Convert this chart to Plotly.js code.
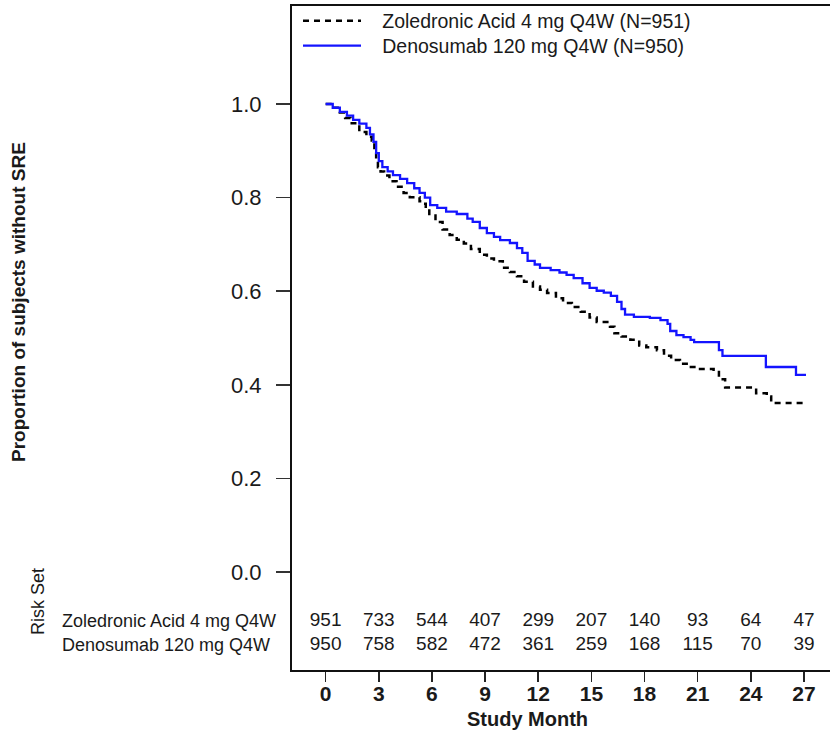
<!DOCTYPE html>
<html>
<head>
<meta charset="utf-8">
<script src="https://cdn.plot.ly/plotly-3.0.1.min.js"></script>
<style>html,body{margin:0;padding:0;background:#fff;}#chart{width:830px;height:731px;}</style>
</head>
<body>
<div id="chart"></div>
<script>
// Kaplan-Meier step data (month, proportion without SRE)
const zolMonths = [0,0.4,0.8,1.1,1.4,1.9,2.3,2.6,2.75,2.85,2.95,3.1,3.3,3.6,4.0,4.4,4.75,5.3,5.5,5.65,5.85,6.2,6.6,7.0,7.4,7.8,8.2,8.7,9.1,9.5,10.0,10.4,10.8,11.2,11.7,12.1,12.5,13.0,13.4,13.9,14.4,14.9,15.3,16.05,16.3,16.7,17.2,17.7,18.1,18.7,19.1,19.5,20.0,20.5,21.0,21.9,22.2,22.55,24.3,24.9,25.15,27.05];
const zolSurv   = [1.0,0.992,0.982,0.970,0.959,0.940,0.930,0.922,0.900,0.880,0.865,0.856,0.847,0.835,0.823,0.810,0.801,0.792,0.787,0.775,0.762,0.748,0.732,0.720,0.710,0.702,0.690,0.678,0.670,0.664,0.650,0.641,0.632,0.620,0.610,0.603,0.596,0.585,0.575,0.566,0.556,0.544,0.534,0.524,0.510,0.503,0.496,0.484,0.480,0.474,0.462,0.453,0.445,0.438,0.434,0.432,0.412,0.394,0.382,0.375,0.361,0.361];

const denoMonths = [0,0.4,0.8,1.2,1.55,1.9,2.3,2.5,2.7,2.85,3.0,3.2,3.5,3.8,4.2,4.6,5.0,5.3,5.6,5.9,6.3,6.8,7.4,8.0,8.3,8.7,9.1,9.5,9.85,10.4,10.8,11.1,11.4,11.8,12.1,12.7,13.2,13.6,14.0,14.5,14.9,15.3,15.7,16.1,16.45,16.7,16.9,17.4,18.3,18.9,19.3,19.45,19.8,20.2,20.6,20.8,22.2,22.4,24.85,26.55,27.05];
const denoSurv   = [1.0,0.992,0.983,0.975,0.966,0.958,0.949,0.935,0.919,0.895,0.878,0.865,0.856,0.848,0.840,0.831,0.820,0.810,0.800,0.784,0.778,0.770,0.765,0.755,0.748,0.735,0.724,0.716,0.709,0.703,0.692,0.682,0.665,0.657,0.650,0.645,0.640,0.635,0.628,0.617,0.607,0.601,0.597,0.590,0.577,0.562,0.550,0.545,0.543,0.538,0.530,0.515,0.506,0.502,0.496,0.491,0.474,0.462,0.438,0.421,0.419];

// Risk set table
const riskMonths = [0,3,6,9,12,15,18,21,24,27];
const riskZol  = [951,733,544,407,299,207,140,93,64,47];
const riskDeno = [950,758,582,472,361,259,168,115,70,39];

const seriesNames = ['Zoledronic Acid 4 mg Q4W (N=951)','Denosumab 120 mg Q4W (N=950)'];
const rowLabels = ['Zoledronic Acid 4 mg Q4W','Denosumab 120 mg Q4W'];
const yTickVals = [0,0.2,0.4,0.6,0.8,1.0];
const yTickText = ['0.0','0.2','0.4','0.6','0.8','1.0'];
const xTickVals = [0,3,6,9,12,15,18,21,24,27];

const FONT = 'Liberation Sans, Arial, sans-serif';
const TXT = '#1a1a1a';
const rowY = [-0.1047, -0.156];
const PAD = '\u00A0\u00A0\u00A0';

const traces = [
  {x: zolMonths, y: zolSurv, mode:'lines', line:{shape:'hv', color:'#000000', width:2.5, dash:'6px,5px'}, name: PAD + seriesNames[0], legend:'legend', hoverinfo:'skip'},
  {x: denoMonths, y: denoSurv, mode:'lines', line:{shape:'hv', color:'#1414ff', width:2.3}, name: PAD + seriesNames[1], legend:'legend2', hoverinfo:'skip'},
  {x: riskMonths, y: riskMonths.map(()=>rowY[0]), mode:'text', text: riskZol.map(String), textposition:'middle center', textfont:{family:FONT, size:19, color:TXT}, showlegend:false, hoverinfo:'skip'},
  {x: riskMonths, y: riskMonths.map(()=>rowY[1]), mode:'text', text: riskDeno.map(String), textposition:'middle center', textfont:{family:FONT, size:19, color:TXT}, showlegend:false, hoverinfo:'skip'}
];

const L = 292, R = 0, T = 6, B = 61;
const plotW = 830 - L - R, plotH = 731 - T - B;
const px2paperX = (px) => (px - L) / plotW;
const px2paperY = (py) => (731 - B - py) / plotH;

const legendBase = {x: px2paperX(298), xanchor:'left', yanchor:'middle', bgcolor:'rgba(0,0,0,0)', borderwidth:0, font:{family:FONT, size:19.5, color:TXT}, itemwidth: 58, tracegroupgap: 0};

const layout = {
  width: 830, height: 731,
  margin: {l: L, r: R, t: T, b: B, pad: 0},
  paper_bgcolor: '#ffffff', plot_bgcolor: '#ffffff',
  font: {family: FONT, color: TXT},
  showlegend: true,
  legend: Object.assign({}, legendBase, {y: px2paperY(21)}),
  legend2: Object.assign({}, legendBase, {y: px2paperY(46)}),
  xaxis: {
    range: [-1.90, 28.47], tickmode:'array', tickvals: xTickVals, ticktext: xTickVals.map(String),
    ticks:'outside', ticklen:10, tickwidth:1.5, tickcolor:'#222',
    showline:true, linecolor:'#111', linewidth:2, mirror:true,
    showgrid:false, zeroline:false, ticklabelstandoff: -6,
    tickfont:{family:FONT, size:21, color:TXT, weight:'bold'}
  },
  yaxis: {
    range: [-0.2094, 1.2094], tickmode:'array', tickvals: yTickVals, ticktext: yTickText,
    ticks:'outside', ticklen:14, tickwidth:1.5, tickcolor:'#333',
    showline:true, linecolor:'#111', linewidth:2, mirror:false,
    showgrid:false, zeroline:false, ticklabelstandoff: 10,
    tickfont:{family:FONT, size:22, color:TXT}
  },
  annotations: [
    {text:'Study Month', xref:'paper', yref:'paper', x: px2paperX(527), y: px2paperY(719), xanchor:'center', yanchor:'middle', showarrow:false, font:{family:FONT, size:20, color:TXT, weight:'bold'}},
    {text:'Proportion of subjects without SRE', xref:'paper', yref:'paper', x: px2paperX(18), y: px2paperY(302), xanchor:'center', yanchor:'middle', textangle:-90, showarrow:false, font:{family:FONT, size:19, color:TXT, weight:'bold'}},
    {text:'Risk Set', xref:'paper', yref:'paper', x: px2paperX(38), y: px2paperY(602), xanchor:'center', yanchor:'middle', textangle:-90, showarrow:false, font:{family:FONT, size:18, color:TXT}},
    {text: rowLabels[0], xref:'paper', yref:'y', x: px2paperX(60), y: rowY[0], xanchor:'left', yanchor:'middle', showarrow:false, font:{family:FONT, size:18, color:TXT}},
    {text: rowLabels[1], xref:'paper', yref:'y', x: px2paperX(60), y: rowY[1], xanchor:'left', yanchor:'middle', showarrow:false, font:{family:FONT, size:18, color:TXT}}
  ]
};

Plotly.newPlot('chart', traces, layout, {displayModeBar:false, staticPlot:true});
</script>
</body>
</html>
